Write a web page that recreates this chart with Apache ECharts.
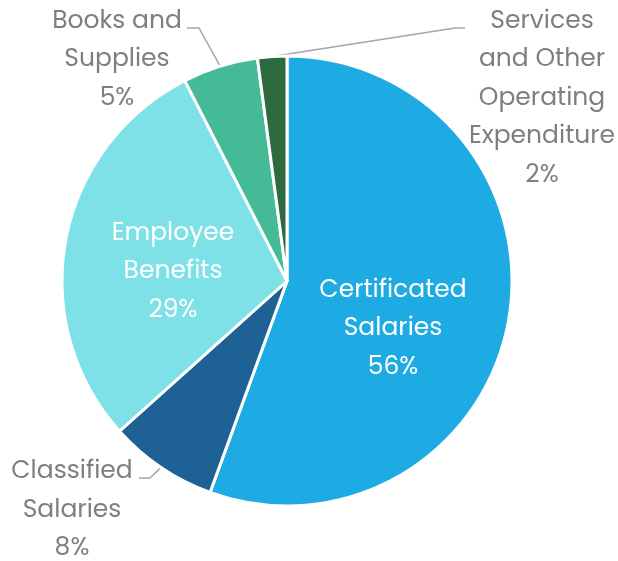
<!DOCTYPE html>
<html>
<head>
<meta charset="utf-8">
<title></title>
<script src="https://cdn.jsdelivr.net/npm/echarts@6/dist/echarts.min.js"></script>
<style>
html,body{margin:0;padding:0;background:#fff;}
#chart{width:618px;height:561px;}
</style>
</head>
<body>
<div id="chart"></div>
<script>
var names = ['Certificated\nSalaries', 'Classified\nSalaries', 'Employee\nBenefits', 'Books and\nSupplies', 'Services\nand Other\nOperating\nExpenditure'];
var values = [55.5, 7.8, 29.1, 5.4, 2.1];
var colors = ['#1eaae2', '#1e6194', '#7de1e7', '#44bb96', '#2d6b3f'];
var inside = [true, false, true, false, false];

// where each label block sits (centre of text)
var labelPos = [[393, 329], [72, 510.5], [173, 272], [117, 60], [542, 98.5]];
// elbow and end of the leader lines (outside labels only)
var linePts = [null, [[150, 478], [139, 478]], null, [[199, 28], [187, 28]], [[455, 28], [465, 28]]];

var chart = echarts.init(document.getElementById('chart'));
var data = [];
for (var i = 0; i < names.length; i++) {
	data.push({
		name: names[i],
		value: values[i],
		itemStyle: {color: colors[i]},
		label: {
			color: inside[i] ? '#ffffff' : '#7f7f7f',
			position: inside[i] ? 'inside' : 'outside'
		},
		labelLine: {show: !inside[i]}
	});
}
chart.setOption({
	animation: false,
	series: [{
		type: 'pie',
		center: [287, 281],
		radius: [0, 225],
		startAngle: 90,
		clockwise: true,
		percentPrecision: 0,
		data: data,
		itemStyle: {borderColor: '#ffffff', borderWidth: 3},
		label: {
			formatter: '{b}\n{d}%',
			fontFamily: 'Poppins, "Open Sans", sans-serif',
			fontSize: 25,
			lineHeight: 38.5,
			align: 'center',
			overflow: 'none'
		},
		labelLine: {
			length: 20,
			length2: 10,
			lineStyle: {color: '#a6a6a6', width: 1.5}
		},
		labelLayout: function (p) {
			var i = p.dataIndex;
			var pos = labelPos[i];
			var res = {x: pos[0], y: pos[1], align: 'center', verticalAlign: 'middle'};
			if (linePts[i] && p.labelLinePoints) {
				res.labelLinePoints = [p.labelLinePoints[0], linePts[i][0], linePts[i][1]];
			}
			return res;
		}
	}]
});
</script>
</body>
</html>
